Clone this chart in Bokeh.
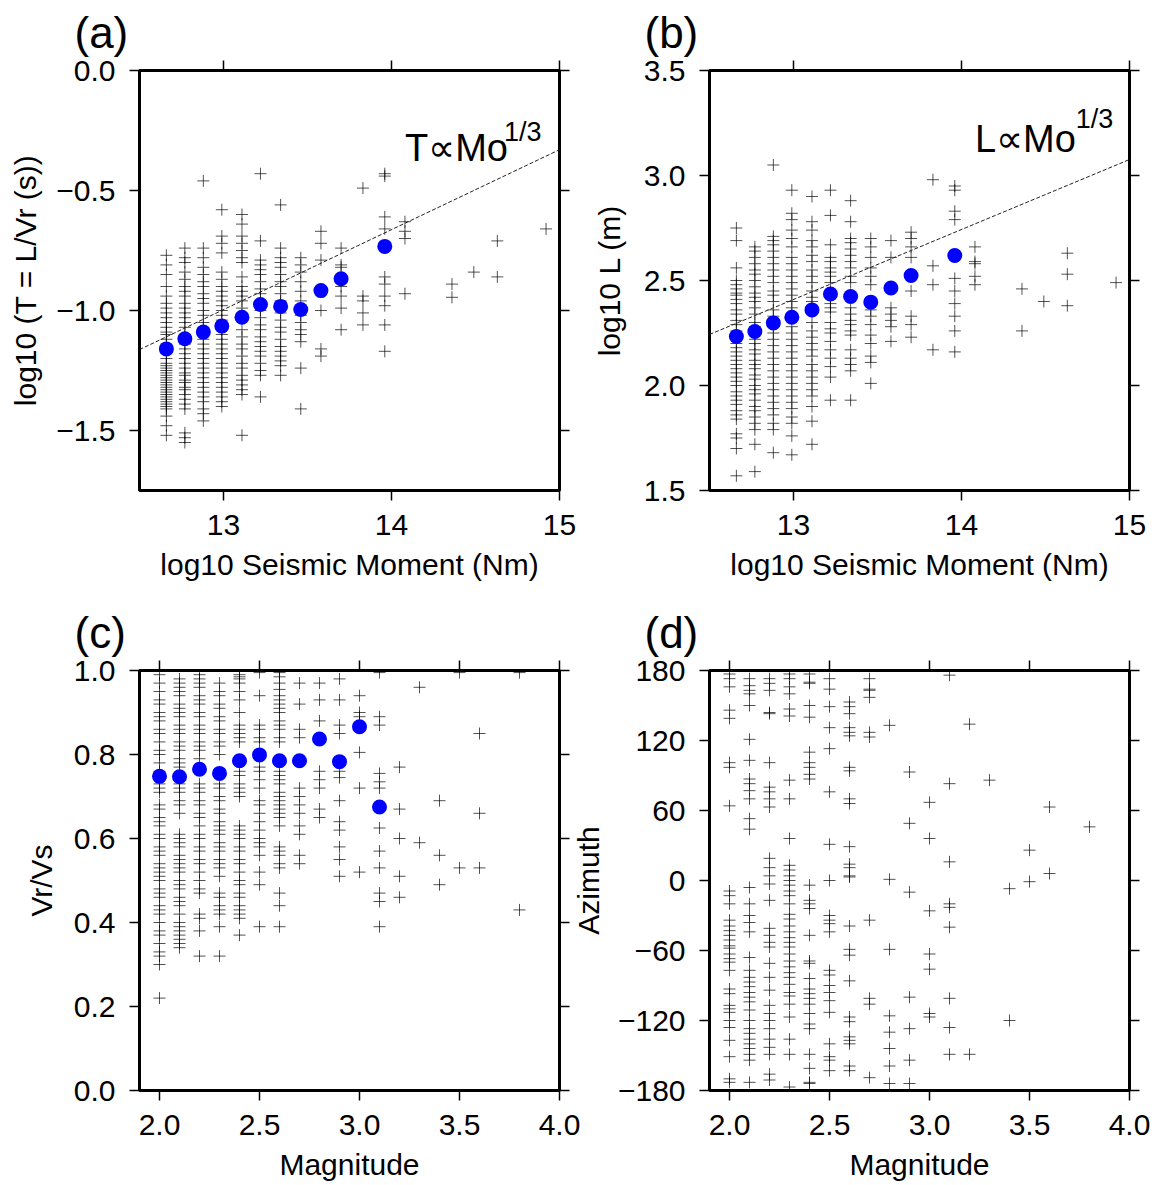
from bokeh.plotting import figure
from bokeh.models import Range1d, LinearAxis, FixedTicker, CustomJSTickFormatter
from bokeh.layouts import column, row
from bokeh.embed import file_html
from bokeh.resources import INLINE
from bokeh.core.properties import value

FONT = "Liberation Sans"
TICK_FS = "30px"
LABEL_FS = "30px"

# ---------------- data ----------------
# log10 seismic moment columns (panels a, b)
MO_COLUMNS = [12.66, 12.77, 12.88, 12.99, 13.11, 13.22, 13.34, 13.46, 13.58,
              13.70, 13.83, 13.96, 14.08, 14.36, 14.49, 14.63, 14.92]

# log10 T per moment column
T_LOG = [
    [-0.77, -0.81, -0.85, -0.90, -0.94, -0.97, -0.99, -1.01, -1.03, -1.05, -1.07, -1.09, -1.10, -1.12,
     -1.14, -1.18, -1.20, -1.22, -1.23, -1.24, -1.25, -1.26, -1.27, -1.28, -1.29, -1.30, -1.31, -1.32,
     -1.33, -1.34, -1.35, -1.36, -1.37, -1.38, -1.39, -1.40, -1.41, -1.44, -1.48, -1.52],
    [-0.74, -0.78, -0.80, -0.84, -0.87, -0.90, -0.92, -0.94, -0.97, -0.99, -1.01, -1.03, -1.05, -1.07,
     -1.10, -1.12, -1.14, -1.16, -1.18, -1.20, -1.22, -1.24, -1.26, -1.27, -1.29, -1.30, -1.32, -1.33,
     -1.35, -1.37, -1.39, -1.41, -1.51, -1.53, -1.55],
    [-0.46, -0.74, -0.78, -0.82, -0.85, -0.88, -0.90, -0.93, -0.95, -0.97, -1.00, -1.02, -1.05, -1.07,
     -1.12, -1.14, -1.16, -1.18, -1.20, -1.22, -1.24, -1.26, -1.28, -1.30, -1.32, -1.34, -1.36, -1.38,
     -1.41, -1.43, -1.46],
    [-0.58, -0.69, -0.72, -0.76, -0.84, -0.87, -0.90, -0.92, -0.94, -0.96, -0.98, -1.00, -1.02, -1.04,
     -1.08, -1.10, -1.12, -1.14, -1.16, -1.18, -1.20, -1.22, -1.24, -1.26, -1.28, -1.30, -1.32, -1.34,
     -1.36, -1.38, -1.40],
    [-0.60, -0.64, -0.69, -0.72, -0.75, -0.78, -0.80, -0.86, -0.90, -0.92, -0.94, -0.96, -0.99, -1.02,
     -1.08, -1.11, -1.14, -1.16, -1.19, -1.22, -1.24, -1.27, -1.29, -1.31, -1.33, -1.35, -1.52],
    [-0.43, -0.71, -0.79, -0.81, -0.83, -0.85, -0.88, -0.91, -0.93, -0.96, -1.00, -1.03, -1.06, -1.08,
     -1.11, -1.13, -1.15, -1.17, -1.19, -1.22, -1.25, -1.27, -1.36],
    [-0.56, -0.74, -0.78, -0.80, -0.82, -0.85, -0.88, -0.90, -0.93, -0.96, -1.01, -1.04, -1.07, -1.09,
     -1.12, -1.15, -1.17, -1.19, -1.21, -1.23, -1.27],
    [-0.78, -0.81, -0.84, -0.88, -0.92, -0.96, -1.02, -1.05, -1.08, -1.10, -1.13, -1.24, -1.41],
    [-0.67, -0.72, -0.79, -1.00, -1.16, -1.19],
    [-0.74, -0.81, -0.82, -0.90, -0.94, -0.99, -1.08],
    [-0.49, -0.94, -0.96, -1.01, -1.06],
    [-0.43, -0.44, -0.61, -0.66, -0.86, -0.89, -0.94, -0.98, -1.06, -1.17],
    [-0.63, -0.67, -0.70, -0.93],
    [-0.89, -0.945],
    [-0.84],
    [-0.71, -0.86],
    [-0.66],
]

# log10 L per moment column
L_LOG = [
    [2.75, 2.69, 2.56, 2.50, 2.48, 2.46, 2.44, 2.43, 2.41, 2.39, 2.36, 2.34, 2.31, 2.29, 2.26, 2.20,
     2.18, 2.16, 2.14, 2.12, 2.10, 2.08, 2.06, 2.04, 2.02, 2.00, 1.97, 1.95, 1.93, 1.91, 1.88, 1.86,
     1.84, 1.77, 1.75, 1.70, 1.57],
    [2.66, 2.64, 2.61, 2.58, 2.55, 2.53, 2.50, 2.47, 2.44, 2.42, 2.40, 2.37, 2.34, 2.30, 2.28, 2.25,
     2.22, 2.20, 2.17, 2.15, 2.12, 2.10, 2.08, 2.05, 2.03, 2.00, 1.98, 1.96, 1.93, 1.90, 1.88, 1.85,
     1.82, 1.79, 1.72, 1.59],
    [3.05, 2.71, 2.69, 2.67, 2.64, 2.61, 2.58, 2.55, 2.52, 2.49, 2.45, 2.43, 2.40, 2.36, 2.33, 2.28,
     2.25, 2.22, 2.19, 2.16, 2.13, 2.10, 2.07, 2.04, 2.01, 1.98, 1.95, 1.92, 1.89, 1.86, 1.82, 1.79,
     1.68],
    [2.93, 2.82, 2.79, 2.74, 2.70, 2.66, 2.61, 2.58, 2.55, 2.52, 2.49, 2.46, 2.43, 2.40, 2.37, 2.34,
     2.28, 2.25, 2.22, 2.19, 2.16, 2.13, 2.10, 2.07, 2.04, 2.01, 1.98, 1.95, 1.92, 1.89, 1.85, 1.82,
     1.76, 1.67],
    [2.90, 2.78, 2.74, 2.69, 2.66, 2.62, 2.59, 2.55, 2.52, 2.49, 2.45, 2.42, 2.40, 2.36, 2.30, 2.26,
     2.23, 2.20, 2.17, 2.14, 2.10, 2.07, 2.04, 2.01, 1.98, 1.95, 1.90, 1.83, 1.72],
    [2.93, 2.81, 2.67, 2.61, 2.59, 2.56, 2.54, 2.52, 2.49, 2.42, 2.39, 2.37, 2.35, 2.30, 2.27, 2.25,
     2.21, 2.17, 2.13, 2.09, 2.04, 1.93],
    [2.88, 2.78, 2.70, 2.68, 2.65, 2.62, 2.59, 2.56, 2.52, 2.49, 2.37, 2.34, 2.31, 2.29, 2.26, 2.24,
     2.17, 2.13, 2.10, 2.07, 1.93],
    [2.70, 2.66, 2.61, 2.56, 2.52, 2.48, 2.36, 2.33, 2.29, 2.24, 2.20, 2.14, 2.11, 2.01],
    [2.69, 2.61, 2.37, 2.34, 2.31, 2.28, 2.21],
    [2.73, 2.70, 2.66, 2.61, 2.45, 2.33, 2.29, 2.23],
    [2.98, 2.57, 2.48, 2.17],
    [2.95, 2.93, 2.83, 2.79, 2.51, 2.45, 2.39, 2.33, 2.26, 2.16],
    [2.66, 2.59, 2.58, 2.52, 2.48],
    [2.46, 2.26],
    [2.40],
    [2.63, 2.53, 2.38],
    [2.49],
]

# magnitude columns (panels c, d)
MAG_COLUMNS = [2.0, 2.1, 2.2, 2.3, 2.4, 2.5, 2.6, 2.7, 2.8, 2.9, 3.0, 3.1, 3.2, 3.3, 3.4, 3.5, 3.6, 3.8]

VR_VS = [
    [0.99, 0.97, 0.95, 0.93, 0.92, 0.90, 0.89, 0.88, 0.86, 0.85, 0.83, 0.81, 0.80, 0.78, 0.76, 0.73,
     0.72, 0.71, 0.68, 0.67, 0.65, 0.64, 0.63, 0.61, 0.60, 0.58, 0.57, 0.56, 0.54, 0.53, 0.52, 0.51,
     0.50, 0.48, 0.47, 0.46, 0.44, 0.43, 0.42, 0.40, 0.38, 0.37, 0.35, 0.33, 0.32, 0.30, 0.22],
    [0.98, 0.97, 0.96, 0.95, 0.94, 0.92, 0.91, 0.90, 0.89, 0.87, 0.86, 0.85, 0.83, 0.82, 0.81, 0.79,
     0.78, 0.77, 0.73, 0.72, 0.71, 0.69, 0.68, 0.66, 0.61, 0.60, 0.59, 0.58, 0.56, 0.55, 0.54, 0.53,
     0.52, 0.50, 0.49, 0.48, 0.46, 0.45, 0.44, 0.42, 0.40, 0.39, 0.38, 0.37, 0.36, 0.35, 0.34],
    [0.99, 0.98, 0.97, 0.96, 0.94, 0.93, 0.92, 0.90, 0.89, 0.87, 0.86, 0.85, 0.83, 0.82, 0.81, 0.79,
     0.73, 0.72, 0.71, 0.69, 0.68, 0.66, 0.65, 0.63, 0.61, 0.60, 0.58, 0.57, 0.55, 0.54, 0.52, 0.50,
     0.48, 0.47, 0.42, 0.41, 0.38, 0.32],
    [0.97, 0.95, 0.94, 0.92, 0.91, 0.89, 0.88, 0.86, 0.85, 0.83, 0.82, 0.80, 0.73, 0.72, 0.70, 0.69,
     0.67, 0.66, 0.64, 0.63, 0.62, 0.61, 0.59, 0.58, 0.57, 0.55, 0.54, 0.53, 0.51, 0.47, 0.46, 0.44,
     0.43, 0.42, 0.39, 0.32],
    [0.99, 0.985, 0.98, 0.97, 0.95, 0.93, 0.90, 0.87, 0.86, 0.85, 0.84, 0.83, 0.76, 0.75, 0.73, 0.72,
     0.71, 0.70, 0.63, 0.62, 0.61, 0.60, 0.58, 0.57, 0.55, 0.54, 0.52, 0.50, 0.49, 0.47, 0.46, 0.44,
     0.43, 0.42, 0.41, 0.37],
    [0.995, 0.94, 0.87, 0.86, 0.84, 0.83, 0.77, 0.76, 0.74, 0.72, 0.69, 0.68, 0.66, 0.64, 0.62, 0.60,
     0.59, 0.58, 0.56, 0.52, 0.49, 0.39],
    [0.995, 0.985, 0.97, 0.955, 0.94, 0.93, 0.92, 0.91, 0.90, 0.88, 0.87, 0.86, 0.84, 0.83, 0.76, 0.75,
     0.74, 0.73, 0.71, 0.70, 0.69, 0.68, 0.67, 0.66, 0.65, 0.63, 0.58, 0.57, 0.56, 0.54, 0.53, 0.47,
     0.44, 0.39],
    [0.97, 0.92, 0.86, 0.84, 0.72, 0.70, 0.68, 0.66, 0.63, 0.61, 0.56, 0.54],
    [0.97, 0.93, 0.88, 0.76, 0.74, 0.72, 0.67, 0.65],
    [0.98, 0.93, 0.87, 0.85, 0.76, 0.745, 0.69, 0.64, 0.62, 0.58, 0.55, 0.51],
    [0.94, 0.90, 0.89, 0.875, 0.805, 0.72, 0.52],
    [0.995, 0.89, 0.87, 0.755, 0.735, 0.72, 0.625, 0.57, 0.53, 0.47, 0.45, 0.39],
    [0.77, 0.67, 0.60, 0.51, 0.46],
    [0.96, 0.59],
    [0.69, 0.56, 0.49],
    [0.995, 0.53],
    [0.85, 0.66, 0.53],
    [0.995, 0.43],
]

AZIMUTH = [
    [177, 173, 166, 146, 139, 101, 97, 64, -9, -13, -20, -34, -39, -43, -47, -51, -56, -58, -63, -67,
     -70, -77, -93, -97, -107, -110, -113, -120, -126, -137, -151, -170, -173],
    [173, 167, 163, 160, 150, 121, 103, 87, 83, 77, 70, 53, 44, -6, -20, -30, -36, -44, -66, -77, -83,
     -87, -91, -96, -100, -104, -111, -120, -127, -131, -136, -140, -144, -149, -154, -173],
    [173, 169, 163, 144, 143, 101, 80, 76, 70, 63, 19, 11, 4, -3, -17, -41, -47, -53, -57, -71, -83,
     -94, -107, -114, -120, -127, -136, -143, -149, -166, -171],
    [177, 173, 166, 160, 147, 141, 86, 70, 36, 13, 9, 4, 0, -4, -9, -13, -20, -29, -33, -39, -44, -49,
     -53, -57, -63, -69, -74, -79, -83, -89, -96, -99, -106, -117, -136, -149, -177],
    [177, 170, 169, 150, 140, 110, 101, 97, 91, 87, -4, -17, -20, -24, -47, -69, -71, -84, -93, -97,
     -101, -106, -114, -123, -127, -149, -161, -173, -174],
    [173, 164, 149, 131, 113, 76, 31, 0, -30, -34, -37, -44, -77, -81, -90, -96, -103, -113, -140,
     -151, -154, -163],
    [153, 149, 143, 131, 127, 124, 97, 94, 70, 66, 29, 14, 11, 3, 4, -39, -59, -64, -86, -117, -121,
     -134, -137, -140, -159, -163],
    [173, 164, 163, 157, 127, 123, -34, -101, -106, -169],
    [133, 1, -59, -116, -130, -144, -159, -174],
    [93, 49, -10, -100, -127, -154, -174],
    [67, 36, -26, -63, -76, -114, -117],
    [176, 83, 16, -20, -23, -40, -101, -126, -149],
    [134, -149],
    [86],
    [-7, -120],
    [26, -1],
    [63, 6],
    [46],
]

# binned means (blue dots)
MO_MEAN_X = [12.66, 12.77, 12.88, 12.99, 13.11, 13.22, 13.34, 13.46, 13.58, 13.70, 13.96]
T_MEAN = [-1.160, -1.118, -1.090, -1.065, -1.028, -0.975, -0.983, -0.996, -0.917, -0.868, -0.733]
L_MEAN = [2.233, 2.257, 2.298, 2.325, 2.360, 2.436, 2.424, 2.397, 2.464, 2.524, 2.619]
MAG_MEAN_X = [2.0, 2.1, 2.2, 2.3, 2.4, 2.5, 2.6, 2.7, 2.8, 2.9, 3.0, 3.1]
VR_MEAN = [0.748, 0.747, 0.765, 0.755, 0.785, 0.799, 0.785, 0.785, 0.837, 0.783, 0.866, 0.675]

# Mo^(1/3) scaling reference lines
SCALING_X = [12.5, 15.0]
T_SCALING = [-1.163, -0.330]
L_SCALING = [2.243, 3.076]

# ticks
MO_TICKS = [13, 14, 15]
T_TICKS = [0.0, -0.5, -1.0, -1.5]
L_TICKS = [1.5, 2.0, 2.5, 3.0, 3.5]
MAG_TICKS = [2.0, 2.5, 3.0, 3.5, 4.0]
VR_TICKS = [0.0, 0.2, 0.4, 0.6, 0.8, 1.0]
AZ_TICKS = [-180, -120, -60, 0, 60, 120, 180]


def flatten(cols, groups):
    xs, ys = [], []
    for c, g in zip(cols, groups):
        for v in g:
            xs.append(c)
            ys.append(v)
    return xs, ys


def fmt(nd):
    return CustomJSTickFormatter(code="""
        const s = Math.abs(tick).toFixed(%d);
        return (tick < 0 ? "\\u2212" : "") + s;
    """ % nd)


def style_axis(ax, ticks, nd, label, standoff, label_standoff):
    ax.ticker = FixedTicker(ticks=ticks)
    ax.formatter = fmt(nd)
    ax.major_tick_out = 10
    ax.major_tick_in = 0
    ax.minor_tick_out = 0
    ax.minor_tick_in = 0
    ax.major_tick_line_color = "black"
    ax.major_tick_line_width = 1.5
    ax.axis_line_color = None
    ax.major_label_text_font = FONT
    ax.major_label_text_font_size = TICK_FS
    ax.major_label_text_color = "black"
    ax.major_label_standoff = standoff
    ax.axis_label = label
    ax.axis_label_text_font = FONT
    ax.axis_label_text_font_size = LABEL_FS
    ax.axis_label_text_font_style = "normal"
    ax.axis_label_text_color = "black"
    ax.axis_label_standoff = label_standoff


def tick_only_axis(ticks):
    ax = LinearAxis(ticker=FixedTicker(ticks=ticks),
                    formatter=CustomJSTickFormatter(code="return ' ';"))
    ax.major_tick_out = 10
    ax.major_tick_in = 0
    ax.minor_tick_out = 0
    ax.minor_tick_in = 0
    ax.major_tick_line_color = "black"
    ax.major_tick_line_width = 1.5
    ax.axis_line_color = None
    ax.major_label_text_font_size = "0px"
    ax.major_label_standoff = 0
    return ax


def panel(letter, xr, yr, xticks, yticks, xnd, ynd, xlabel, ylabel,
          bl, br, bt, bb, ystand, ylab_stand, shift_left=0):
    p = figure(frame_width=420, frame_height=420,
               x_range=Range1d(*xr), y_range=Range1d(*yr),
               output_backend="svg", toolbar_location=None,
               min_border_left=bl, min_border_right=br,
               min_border_top=bt, min_border_bottom=bb,
               background_fill_color="white",
               border_fill_color=None if shift_left else "white",
               margin=(0, 0, 0, -shift_left))
    p.xgrid.visible = False
    p.ygrid.visible = False
    p.outline_line_color = "black"
    p.outline_line_width = 3
    p.outline_line_alpha = 1.0
    style_axis(p.xaxis[0], xticks, xnd, xlabel, 14, 10)
    style_axis(p.yaxis[0], yticks, ynd, ylabel, ystand, ylab_stand)
    p.add_layout(tick_only_axis(xticks), "above")
    p.add_layout(tick_only_axis(yticks), "right")
    p.title.text = letter
    p.title.text_font = FONT
    p.title.text_font_size = "44px"
    p.title.text_font_style = "normal"
    p.title.text_color = "black"
    p.title.align = "left"
    p.title.offset = -65
    p.title.standoff = 7
    return p


def crosses(p, xs, ys):
    p.scatter(xs, ys, marker="cross", size=12, line_color="black",
              line_alpha=0.68, line_width=1)


def means(p, xs, ys):
    p.scatter(xs, ys, marker="circle", size=15, fill_color="#0000ff",
              line_color=None)


def scaling_label(p, x, y, main, xs, ys):
    p.text(x=[x], y=[y], text=[main], text_font=value(FONT),
           text_font_size="38px", text_align="left", text_baseline="alphabetic",
           text_color="black")
    p.text(x=[xs], y=[ys], text=["1/3"], text_font=value(FONT),
           text_font_size="27px", text_align="left", text_baseline="alphabetic",
           text_color="black")


# ---------------- panel (a) ----------------
pa = panel("(a)", (12.5, 15.0), (-1.75, 0.0), MO_TICKS, T_TICKS, 0, 1,
           "log10 Seismic Moment (Nm)", "log10 (T = L/Vr (s))",
           139, 22, 70, 110, 14, 11)
xa, ya = flatten(MO_COLUMNS, T_LOG)
crosses(pa, xa, ya)
pa.line(SCALING_X, T_SCALING, line_color="#222222", line_width=1, line_dash="4 2")
means(pa, MO_MEAN_X, T_MEAN)
scaling_label(pa, 14.08, -0.321, "T\u221dMo", 14.67, -0.258)

# ---------------- panel (b) ----------------
pb = panel("(b)", (12.5, 15.0), (1.5, 3.5), MO_TICKS, L_TICKS, 0, 1,
           "log10 Seismic Moment (Nm)", "log10 L (m)",
           128, 22, 70, 110, 14, 15)
xb, yb = flatten(MO_COLUMNS, L_LOG)
crosses(pb, xb, yb)
pb.line(SCALING_X, L_SCALING, line_color="#222222", line_width=1, line_dash="4 2")
means(pb, MO_MEAN_X, L_MEAN)
scaling_label(pb, 14.08, 3.176, "L\u221dMo", 14.68, 3.271)

# ---------------- panel (c) ----------------
pc = panel("(c)", (1.9, 4.0), (0.0, 1.0), MAG_TICKS, VR_TICKS, 1, 1,
           "Magnitude", "Vr/Vs",
           139, 22, 70, 93, 14, 13)
xc, yc = flatten(MAG_COLUMNS, VR_VS)
crosses(pc, xc, yc)
means(pc, MAG_MEAN_X, VR_MEAN)

# ---------------- panel (d) ----------------
# wider left margin for the "-180" labels; the figure is pulled left so its
# transparent margin overlaps panel (c)'s right margin and the frames align
pd_ = panel("(d)", (1.9, 4.0), (-180, 180), MAG_TICKS, AZ_TICKS, 1, 0,
            "Magnitude", "Azimuth",
            144, 22, 70, 93, 14, 10, shift_left=16)
xd, yd = flatten(MAG_COLUMNS, AZIMUTH)
crosses(pd_, xd, yd)

layout = column(row(pa, pb), row(pc, pd_))

with open("out.html", "w") as f:
    f.write(file_html(layout, INLINE))
